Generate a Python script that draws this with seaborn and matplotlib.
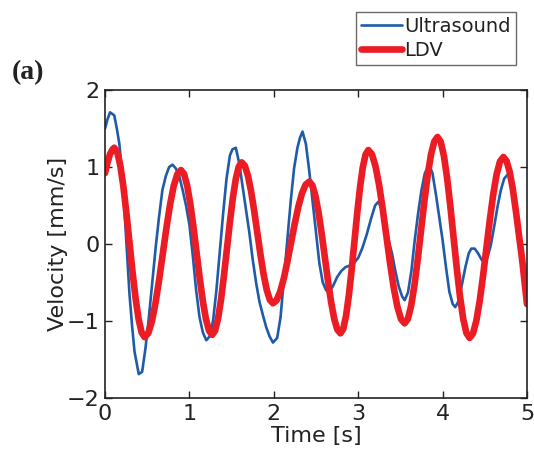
import numpy as np
import pandas as pd
import matplotlib
matplotlib.use("Agg")
import matplotlib.pyplot as plt
import seaborn as sns
from matplotlib.lines import Line2D

sns.set_theme(style="white")
plt.rcParams['font.family'] = ['DejaVu Sans']

# Ultrasound series (time [s], velocity [mm/s])
us_t = [0.00, 0.03, 0.06, 0.11, 0.14, 0.17, 0.20, 0.23, 0.26, 0.29, 0.32, 0.35, 0.40, 0.44,
        0.48, 0.52, 0.56, 0.60, 0.64, 0.68, 0.72, 0.76, 0.80, 0.84, 0.88, 0.92, 0.96, 1.00,
        1.04, 1.08, 1.12, 1.16, 1.20, 1.24, 1.28, 1.32, 1.36, 1.40, 1.44, 1.48, 1.51, 1.55,
        1.59, 1.63, 1.67, 1.71, 1.75, 1.79, 1.83, 1.87, 1.91, 1.95, 1.99, 2.04, 2.08, 2.12,
        2.16, 2.20, 2.24, 2.28, 2.31, 2.34, 2.38, 2.42, 2.46, 2.50, 2.54, 2.58, 2.62, 2.65,
        2.70, 2.75, 2.80, 2.85, 2.90, 2.95, 3.00, 3.05, 3.10, 3.15, 3.20, 3.24, 3.28, 3.32,
        3.36, 3.40, 3.44, 3.48, 3.52, 3.55, 3.59, 3.63, 3.67, 3.71, 3.75, 3.79, 3.84, 3.88,
        3.92, 3.96, 4.00, 4.04, 4.08, 4.12, 4.15, 4.19, 4.23, 4.27, 4.31, 4.34, 4.38, 4.42,
        4.46, 4.49, 4.53, 4.57, 4.61, 4.65, 4.69, 4.73, 4.77, 4.80, 4.84, 4.88, 4.92, 4.96,
        5.00]
us_v = [1.50, 1.62, 1.71, 1.67, 1.50, 1.30, 0.95, 0.45, -0.10, -0.65, -1.05, -1.40, -1.69, -1.66,
        -1.35, -0.95, -0.50, -0.05, 0.35, 0.70, 0.88, 1.00, 1.03, 0.98, 0.88, 0.70, 0.50, 0.25,
        -0.15, -0.60, -0.95, -1.15, -1.25, -1.20, -1.00, -0.60, -0.10, 0.40, 0.85, 1.15, 1.23, 1.25,
        1.05, 0.75, 0.45, 0.15, -0.20, -0.50, -0.75, -0.92, -1.08, -1.20, -1.28, -1.22, -0.95, -0.45,
        0.05, 0.55, 0.98, 1.25, 1.38, 1.46, 1.30, 0.95, 0.55, 0.15, -0.25, -0.50, -0.60, -0.63,
        -0.55, -0.43, -0.35, -0.30, -0.28, -0.25, -0.18, -0.05, 0.12, 0.32, 0.50, 0.55, 0.45, 0.25,
        0.05, -0.12, -0.35, -0.55, -0.68, -0.73, -0.63, -0.35, 0.05, 0.40, 0.70, 0.92, 1.03, 0.92,
        0.65, 0.35, 0.05, -0.30, -0.62, -0.78, -0.82, -0.74, -0.52, -0.30, -0.12, -0.06, -0.06, -0.12,
        -0.20, -0.24, -0.18, -0.02, 0.22, 0.48, 0.70, 0.85, 0.90, 0.88, 0.62, 0.35, 0.05, -0.22,
        -0.44]

# LDV series (time [s], velocity [mm/s])
ldv_t = [0.00, 0.03, 0.06, 0.09,
         0.11, 0.146, 0.182, 0.218, 0.254, 0.29, 0.326, 0.362, 0.398, 0.434,
         0.47, 0.513, 0.556, 0.599, 0.642, 0.685, 0.728, 0.771, 0.814, 0.857,
         0.90, 0.937, 0.974, 1.011, 1.048, 1.085, 1.122, 1.159, 1.196, 1.233,
         1.27, 1.305, 1.34, 1.375, 1.41, 1.445, 1.48, 1.515, 1.55, 1.585,
         1.62, 1.657, 1.694, 1.731, 1.768, 1.805, 1.842, 1.879, 1.916, 1.953,
         1.99, 2.033, 2.076, 2.119, 2.162, 2.205, 2.248, 2.291, 2.334, 2.377,
         2.42, 2.457, 2.494, 2.531, 2.568, 2.605, 2.642, 2.679, 2.716, 2.753,
         2.79, 2.823, 2.856, 2.889, 2.922, 2.955, 2.988, 3.021, 3.054, 3.087,
         3.12, 3.163, 3.206, 3.249, 3.292, 3.335, 3.378, 3.421, 3.464, 3.507,
         3.55, 3.589, 3.628, 3.667, 3.706, 3.745, 3.784, 3.823, 3.862, 3.901,
         3.94, 3.978, 4.016, 4.054, 4.092, 4.13, 4.168, 4.206, 4.244, 4.282,
         4.32, 4.36, 4.40, 4.44, 4.48, 4.52, 4.56, 4.60, 4.64, 4.68,
         4.72, 4.757, 4.794, 4.831, 4.868, 4.905, 4.942, 4.97, 5.00]
ldv_v = [0.92, 1.06, 1.17, 1.23,
         1.25, 1.19, 1.015, 0.743, 0.400, 0.02, -0.360, -0.703, -0.975, -1.150,
         -1.21, -1.157, -1.003, -0.763, -0.460, -0.125, 0.210, 0.513, 0.753, 0.907,
         0.96, 0.908, 0.756, 0.519, 0.221, -0.11, -0.441, -0.739, -0.976, -1.128,
         -1.18, -1.125, -0.966, -0.719, -0.406, -0.06, 0.286, 0.599, 0.846, 1.005,
         1.06, 1.015, 0.885, 0.683, 0.428, 0.145, -0.138, -0.393, -0.595, -0.725,
         -0.77, -0.731, -0.619, -0.445, -0.224, 0.02, 0.264, 0.485, 0.659, 0.771,
         0.81, 0.762, 0.622, 0.404, 0.129, -0.175, -0.479, -0.754, -0.972, -1.112,
         -1.16, -1.102, -0.933, -0.670, -0.338, 0.03, 0.398, 0.730, 0.993, 1.162,
         1.22, 1.165, 1.005, 0.757, 0.443, 0.095, -0.253, -0.567, -0.815, -0.975,
         -1.03, -0.971, -0.799, -0.531, -0.194, 0.18, 0.554, 0.891, 1.159, 1.331,
         1.39, 1.326, 1.141, 0.852, 0.488, 0.085, -0.318, -0.682, -0.971, -1.156,
         -1.22, -1.162, -0.996, -0.736, -0.408, -0.045, 0.318, 0.646, 0.906, 1.072,
         1.13, 1.08, 0.94, 0.72, 0.43, 0.12, -0.20, -0.48, -0.78]

x_ticks = [0, 1, 2, 3, 4, 5]
y_ticks = [-2, -1, 0, 1, 2]
series_names = ["Ultrasound", "LDV"]
blue = "#1F5BA8"
red = "#EC1C24"

us_df = pd.DataFrame({"Time": us_t, "Velocity": us_v})
ldv_df = pd.DataFrame({"Time": ldv_t, "Velocity": ldv_v})

fig = plt.figure(figsize=(5.34, 4.66), dpi=100)
ax = fig.add_axes([105 / 534, 68 / 466, 422 / 534, 308 / 466])

sns.lineplot(data=us_df, x="Time", y="Velocity", ax=ax, color=blue, linewidth=1.9,
             sort=False, estimator=None)
sns.lineplot(data=ldv_df, x="Time", y="Velocity", ax=ax, color=red, linewidth=4.8,
             sort=False, estimator=None, solid_joinstyle="round")

ax.set_xlim(0, 5)
ax.set_ylim(-2, 2)
ax.set_xticks(x_ticks)
ax.set_yticks(y_ticks)
ax.set_xticklabels([str(v) for v in x_ticks])
ax.set_yticklabels([str(v).replace("-", "\u2212") for v in y_ticks])
ax.tick_params(direction="in", length=5, width=1, colors="#222222", labelsize=16,
               top=True, right=True, bottom=True, left=True, pad=4)
for sp in ax.spines.values():
    sp.set_visible(True)
    sp.set_color("#222222")
    sp.set_linewidth(1.2)
ax.set_xlabel("Time [s]", fontsize=16, color="#222222", labelpad=2)
ax.set_ylabel("Velocity [mm/s]", fontsize=16, color="#222222")
ax.yaxis.set_label_coords(-0.088, 0.5)
ax.grid(False)

handles = [Line2D([0], [0], color=blue, lw=1.9), Line2D([0], [0], color=red, lw=4.8)]
leg = fig.legend(handles, series_names, loc="upper left",
                 bbox_to_anchor=(356 / 534, 1 - 12 / 466), fontsize=14,
                 frameon=True, fancybox=False, handlelength=2.1, handletextpad=0.15,
                 borderpad=0.25, labelspacing=0.25, borderaxespad=0)
leg.get_frame().set_edgecolor("#444444")
leg.get_frame().set_linewidth(1.0)
for t in leg.get_texts():
    t.set_color("#222222")

fig.text(12 / 534, 1 - 73 / 466, "(a)", fontsize=20, fontweight="bold",
         family=["Liberation Serif", "DejaVu Serif"], va="center", ha="left", color="#222222")

fig.savefig("out.png", dpi=100, facecolor="white")
